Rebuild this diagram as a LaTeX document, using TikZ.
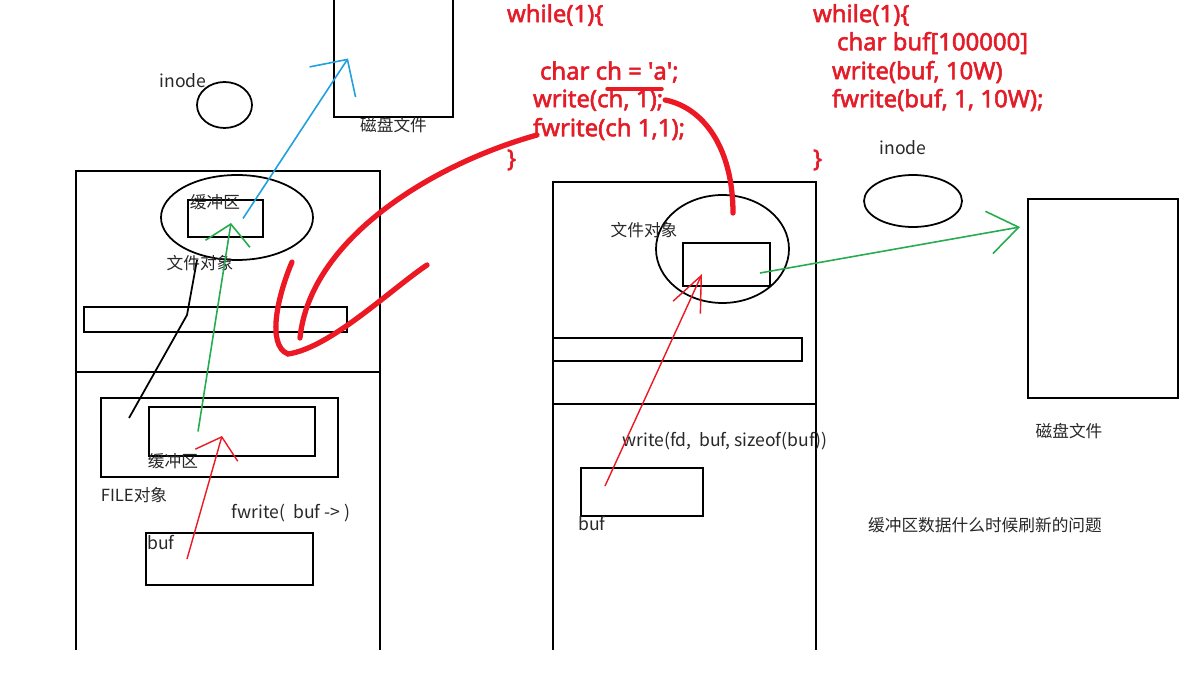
\documentclass[tikz,border=0pt]{standalone}
\usepackage{fontspec}
\setmainfont{Noto Sans}
\newfontfamily\cjk{Noto Sans CJK SC}
\newfontfamily\codefont{Noto Sans}[FakeBold=2.2]
\usetikzlibrary{shapes.geometric, arrows.meta, positioning}
\definecolor{codered}{RGB}{228,28,40}
\definecolor{penred}{RGB}{236,24,36}
\definecolor{penblue}{RGB}{32,160,222}
\definecolor{pengreen}{RGB}{36,172,78}
\definecolor{inkgray}{RGB}{40,40,40}

\begin{document}
\begin{tikzpicture}[
    x=0.02cm, y=-0.02cm,
    every node/.style={inner sep=0pt, outer sep=0pt},
    notetext/.style={font=\cjk\fontsize{9.5}{11}\selectfont, text=inkgray},
    widenote/.style={notetext, font=\cjk\fontsize{10}{12}\selectfont},
    codetext/.style={font=\codefont\fontsize{13.6}{15}\selectfont\bfseries, text=codered, anchor=west},
    boxline/.style={rectangle, draw, line width=1pt},
    ovalline/.style={ellipse, draw, line width=1pt},
    panel/.style={rectangle},
    blackpen/.style={line width=1pt},
    redpen/.style={draw=penred, line width=3pt, line cap=round},
    thinred/.style={draw=penred, line width=0.8pt},
    bluepen/.style={draw=penblue, line width=0.9pt},
    greenpen/.style={draw=pengreen, line width=0.9pt},
    handtip/.style 2 args={-{Straight Barb[length=#1,width=#2]}},
]
\useasboundingbox (0,0) rectangle (1190,675);
\fill[white] (0,0) rectangle (1190,675);

% Left: inode and disk file
\node[ovalline, minimum width=1.1cm, minimum height=0.92cm] (linode) at (224.5,105) {};
\node[widenote] at (183,81) {inode};
\node[panel, minimum width=2.38cm, minimum height=2.34cm] (ldisk) at (393.5,58.5) {};
\draw[blackpen] (ldisk.north west) |- (ldisk.south east) -- (ldisk.north east);
\node[notetext, below=0pt of ldisk] {磁盘文件};

% Left panel
\node[panel, minimum width=6.08cm, minimum height=9.58cm] (lpanel) at (228,410.5) {};
\coordinate (ldiv) at (0,372);
\draw[blackpen] (lpanel.south west) -- (lpanel.north west) -- (lpanel.north east) -- (lpanel.south east);
\draw[blackpen] (lpanel.west |- ldiv) -- (lpanel.east |- ldiv);
\node[ovalline, minimum width=3.04cm, minimum height=1.7cm] (lfobj) at (237,217.5) {};
\node[boxline, minimum width=1.5cm, minimum height=0.74cm] (lbufin) at (225.5,218.5) {};
\node[notetext] at (215,202) {缓冲区};
\node[notetext] at (200,263) {文件对象};
\node[boxline, minimum width=5.26cm, minimum height=0.5cm] (lbar) at (215.5,319.5) {};
\node[boxline, minimum width=4.74cm, minimum height=1.58cm] (lfile) at (219.5,437.5) {};
\node[boxline, minimum width=3.32cm, minimum height=0.98cm] (lfbuf) at (232,431.5) {};
\node[notetext] at (173,461) {缓冲区};
\node[notetext] at (134,495) {FILE对象};
\node[widenote] at (291,513) {fwrite(\ \ buf -> )};
\node[boxline, minimum width=3.34cm, minimum height=1.04cm] (lbuf) at (229.5,559) {};
\node[widenote] at (161,543) {buf};

% Middle panel
\node[panel, minimum width=5.26cm, minimum height=9.36cm] (mpanel) at (684.5,416) {};
\coordinate (mdiv) at (0,404);
\draw[blackpen] (mpanel.south west) -- (mpanel.north west) -- (mpanel.north east) -- (mpanel.south east);
\draw[blackpen] (mpanel.west |- mdiv) -- (mpanel.east |- mdiv);
\node[ovalline, minimum width=2.66cm, minimum height=2.16cm] (mfobj) at (722.5,249) {};
\node[boxline, minimum width=1.74cm, minimum height=0.86cm] (mbufin) at (726.5,264.5) {};
\node[notetext] at (644,230) {文件对象};
\node[boxline, minimum width=4.98cm, minimum height=0.46cm] (mbar) at (677.5,349.5) {};
\node[widenote] at (725,441) {write(fd,\ \ buf, sizeof(buf))};
\node[boxline, minimum width=2.44cm, minimum height=0.96cm] (mbuf) at (642,492) {};
\node[widenote] at (592,524) {buf};

% Right: inode and disk file
\node[ovalline, minimum width=1.96cm, minimum height=1.04cm] (rinode) at (913,201) {};
\node[widenote, above=4mm of rinode, xshift=-2mm] {inode};
\node[boxline, minimum width=3cm, minimum height=3.98cm] (rdisk) at (1103,298.5) {};
\node[notetext, below=5mm of rdisk, xshift=-6.8mm] {磁盘文件};
\node[notetext] at (985,525) {缓冲区数据什么时候刷新的问题};

% Code
\node[codetext] (lwhile) at (507,15) {while(1)\{};
\node[codetext] (lchar) at (540,72) {char ch = \textquotesingle a\textquotesingle;};
\node[codetext] (lwrite) at (533,100) {write(ch, 1);};
\node[codetext] (lfwrite) at (533,129) {fwrite(ch 1,1);};
\node[codetext] (lclose) at (507,160) {\}};
\node[codetext] (rwhile) at (813,15) {while(1)\{};
\node[codetext] (rchar) at (837,43) {char buf[100000]};
\node[codetext] (rwrite) at (832,72) {write(buf, 10W)};
\node[codetext] (rfwrite) at (832,100) {fwrite(buf, 1, 10W);};
\node[codetext] (rclose) at (813,160) {\}};

% Arrows
\draw[bluepen, handtip={5.4mm}{11mm}] ([xshift=3.5mm]lbufin.center) -- ([xshift=2.8mm]ldisk.west);
\draw[greenpen, handtip={4mm}{9mm}] ([xshift=-6.8mm]lfbuf.center) -- ([xshift=1.1mm,yshift=-0.9mm]lbufin.center);
\draw[thinred, handtip={3.8mm}{8.8mm}] ([xshift=-8.5mm]lbuf.center) -- ([xshift=-2mm,yshift=-0.9mm]lfbuf.center);
\draw[thinred, handtip={7mm}{6mm}] ([xshift=-7.4mm,yshift=1.2mm]mbuf.center) -- ([xshift=-4.9mm,yshift=-1.9mm]mbufin.center);
\draw[greenpen, handtip={6mm}{8.6mm}] ([xshift=6.7mm,yshift=-1.7mm]mbufin.center) -- ([xshift=-1.6mm,yshift=1.43cm]rdisk.west);
\draw[blackpen] ([xshift=-8mm]lfobj.south) -- ++(-10,55) -- ([xshift=5.6mm,yshift=3.9mm]lfile.west);

% Red pen strokes
\draw[redpen] ([xshift=0.8mm,yshift=-1.2mm]lfwrite.west) .. controls (430,165) and (310,240) .. ([xshift=1.69cm,yshift=-1.2mm]lbar.south);
\draw[redpen] (292,262) .. controls (278,295) and (266,345) .. (288,354) .. controls (330,348) and (390,290) .. (427,265);
\draw[redpen] ([xshift=0.4mm]lwrite.east) .. controls (705,108) and (733,150) .. ([xshift=2.1mm,yshift=-3.6mm]mfobj.north);
\draw[redpen, line width=2pt] (607,89) -- (662,89);

\end{tikzpicture}
\end{document}
